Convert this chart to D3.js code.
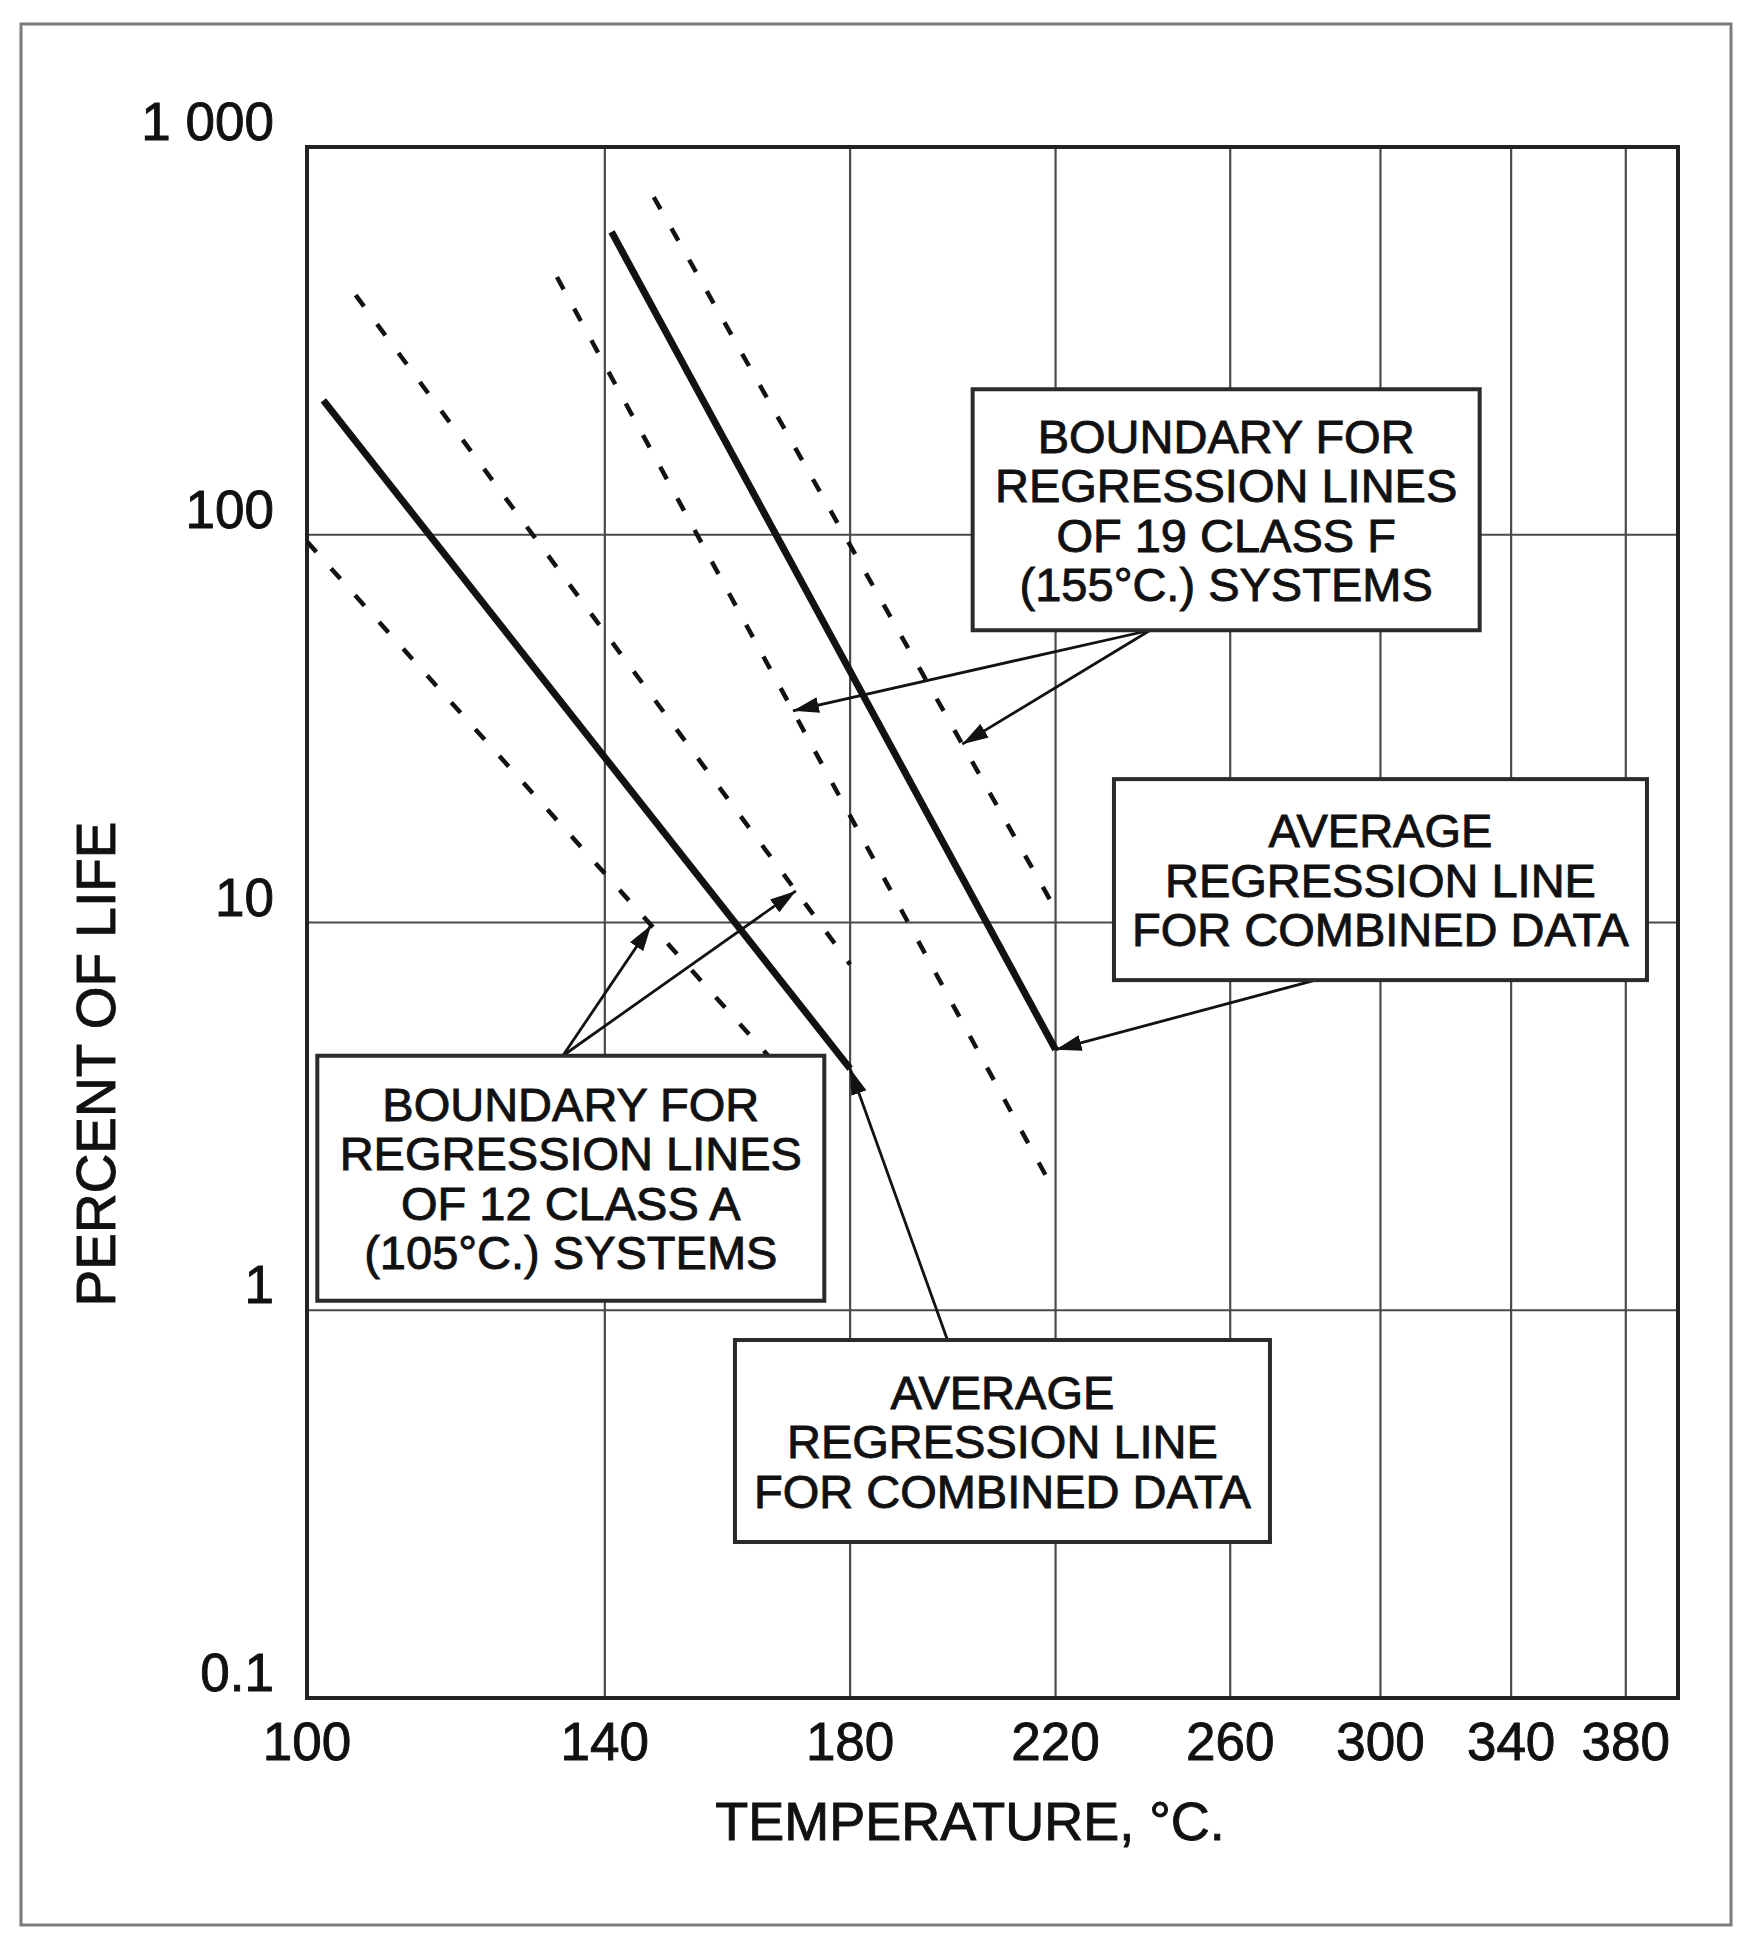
<!DOCTYPE html>
<html>
<head>
<meta charset="utf-8">
<script src="https://cdn.jsdelivr.net/npm/d3@7"></script>
<style>
  html, body { margin: 0; padding: 0; background: #fff; }
  svg { display: block; }
  text { font-family: "Liberation Sans", Arial, Helvetica, sans-serif; fill: #111; stroke: #111; stroke-width: 0.9; }
</style>
</head>
<body>
<svg id="chart"></svg>
<script>
// Percent of life vs temperature (Arrhenius axis: x is linear in -1/T, y is log)

// ---- data ----
const tempTicks = [100, 140, 180, 220, 260, 300, 340, 380];
const lifeTicks = [0.1, 1, 10, 100, 1000];
const lifeTickLabels = ["0.1", "1", "10", "100", "1 000"];

const lineNames = [
  "Class A lower boundary", "Class A average", "Class A upper boundary",
  "Class F lower boundary", "Class F average", "Class F upper boundary"
];
const lineKinds = ["boundary", "average", "boundary", "boundary", "average", "boundary"];
const lineTemps = [[100, 177], [102, 180], [106, 180], [133, 220], [141, 220], [147.4, 220]];
const lineLife  = [[96, 2.95], [222, 4.2], [415, 7.8], [462, 2.0], [604, 4.7], [743, 10.8]];

// annotation boxes: text, centre in data units, and what the arrows point to [line index, temperature]
const noteText = [
  ["BOUNDARY FOR", "REGRESSION LINES", "OF 19 CLASS F", "(155°C.) SYSTEMS"],
  ["AVERAGE", "REGRESSION LINE", "FOR COMBINED DATA"],
  ["BOUNDARY FOR", "REGRESSION LINES", "OF 12 CLASS A", "(105°C.) SYSTEMS"],
  ["AVERAGE", "REGRESSION LINE", "FOR COMBINED DATA"]
];
const noteAt = [[259, 116], [300, 12.9], [135, 2.19], [209, 0.46]];
const noteTargets = [[[3, 170], [5, 201]], [[4, 220]], [[0, 147], [2, 170.5]], [[1, 180]]];

(function () {
  const W = 1757, H = 1942;
  const M = { top: 147, right: 79, bottom: 244, left: 307 };
  const innerW = W - M.left - M.right;
  const innerH = H - M.top - M.bottom;

  // box layout (px): size, and where the arrow tail leaves the box
  const BOX = [
    { w: 507, h: 241, edge: "bottom", dx: -76 },
    { w: 533, h: 201, edge: "bottom", dx: -65 },
    { w: 507, h: 245, edge: "top", dx: -8 },
    { w: 535, h: 202, edge: "top", dx: -55 }
  ];

  const INK = "#121212";
  const GRID = "#4a4a4a";

  const K = 273.15;
  const inv = t => -1 / (t + K);
  const xInv = d3.scaleLinear().domain([inv(100), inv(400)]).range([0, innerW]);
  const x = t => xInv(inv(t));
  const y = d3.scaleLog().domain([0.1, 1000]).range([innerH, 0]);

  const svg = d3.select("#chart").attr("width", W).attr("height", H);

  // outer page frame
  svg.append("rect")
    .attr("x", 21).attr("y", 24).attr("width", 1710).attr("height", 1901)
    .attr("fill", "none").attr("stroke", "#7a7a7a").attr("stroke-width", 3);

  const defs = svg.append("defs");
  defs.append("marker")
    .attr("id", "head")
    .attr("viewBox", "0 0 26 16")
    .attr("refX", 26).attr("refY", 8)
    .attr("markerWidth", 26).attr("markerHeight", 16)
    .attr("markerUnits", "userSpaceOnUse")
    .attr("orient", "auto")
    .append("path").attr("d", "M0,0 L26,8 L0,16 Z").attr("fill", INK);

  const g = svg.append("g").attr("transform", `translate(${M.left},${M.top})`);

  // gridlines
  g.selectAll(".vgrid").data(tempTicks.slice(1)).enter().append("line")
    .attr("x1", d => x(d)).attr("x2", d => x(d))
    .attr("y1", 0).attr("y2", innerH)
    .attr("stroke", GRID).attr("stroke-width", 2.2);

  g.selectAll(".hgrid").data(lifeTicks.slice(1, -1)).enter().append("line")
    .attr("x1", 0).attr("x2", innerW)
    .attr("y1", d => y(d)).attr("y2", d => y(d))
    .attr("stroke", GRID).attr("stroke-width", 2.2);

  // plot frame
  g.append("rect")
    .attr("x", 0).attr("y", 0).attr("width", innerW).attr("height", innerH)
    .attr("fill", "none").attr("stroke", "#222").attr("stroke-width", 4);

  // tick labels
  g.selectAll(".ylab").data(lifeTicks).enter().append("text")
    .attr("x", -33).attr("y", d => y(d) - 7)
    .attr("text-anchor", "end")
    .attr("font-size", 53)
    .text((d, i) => lifeTickLabels[i]);

  g.selectAll(".xlab").data(tempTicks).enter().append("text")
    .attr("x", d => x(d)).attr("y", innerH + 62)
    .attr("text-anchor", "middle")
    .attr("font-size", 53)
    .text(d => d);

  // axis titles
  g.append("text")
    .attr("x", 663).attr("y", innerH + 142)
    .attr("text-anchor", "middle")
    .attr("font-size", 54)
    .text("TEMPERATURE, °C.");

  g.append("text")
    .attr("transform", `translate(-192, 917) rotate(-90)`)
    .attr("text-anchor", "middle")
    .attr("font-size", 55)
    .text("PERCENT OF LIFE");

  // regression lines
  const ends = lineTemps.map((ts, i) => [
    [x(ts[0]), y(lineLife[i][0])],
    [x(ts[1]), y(lineLife[i][1])]
  ]);

  g.selectAll(".reg").data(lineNames).enter().append("path")
    .attr("d", (d, i) => d3.line()(ends[i]))
    .attr("fill", "none")
    .attr("stroke", INK)
    .attr("stroke-width", (d, i) => lineKinds[i] === "average" ? 7 : 4.5)
    .attr("stroke-dasharray", (d, i) => lineKinds[i] === "average" ? null : "14 22");

  // point on a line at a given temperature
  function pointOn(li, t) {
    const [[x0, y0], [x1, y1]] = ends[li];
    const px = x(t);
    const f = (px - x0) / (x1 - x0);
    return [px, y0 + f * (y1 - y0)];
  }

  // boxes + arrows
  noteText.forEach((lines, bi) => {
    const b = BOX[bi];
    const cx = x(noteAt[bi][0]), cy = y(noteAt[bi][1]);
    const tail = [cx + b.dx, b.edge === "top" ? cy - b.h / 2 : cy + b.h / 2];

    noteTargets[bi].forEach(([li, t]) => {
      const tip = pointOn(li, t);
      g.append("line")
        .attr("x1", tail[0]).attr("y1", tail[1])
        .attr("x2", tip[0]).attr("y2", tip[1])
        .attr("stroke", INK).attr("stroke-width", 2.8)
        .attr("marker-end", "url(#head)");
    });

    g.append("rect")
      .attr("x", cx - b.w / 2).attr("y", cy - b.h / 2)
      .attr("width", b.w).attr("height", b.h)
      .attr("fill", "#fff").attr("stroke", "#2a2a2a").attr("stroke-width", 4);

    const lh = 49.5;
    lines.forEach((s, i) => {
      g.append("text")
        .attr("x", cx)
        .attr("y", cy + (i - (lines.length - 1) / 2) * lh + 17)
        .attr("text-anchor", "middle")
        .attr("font-size", 47)
        .text(s);
    });
  });
})();
</script>
</body>
</html>
